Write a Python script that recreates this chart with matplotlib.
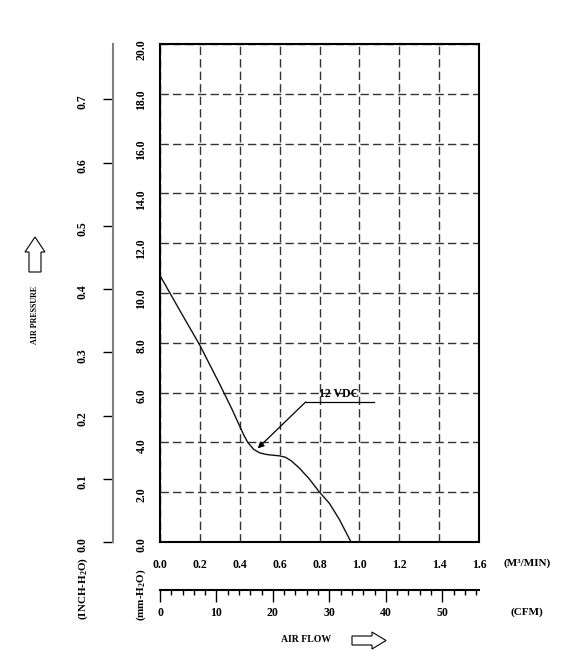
import numpy as np
import matplotlib
matplotlib.use("Agg")
import matplotlib.pyplot as plt
from matplotlib.patches import Polygon

plt.rcParams['font.family'] = ['Liberation Serif', 'DejaVu Serif']
plt.rcParams['font.weight'] = 'bold'
plt.rcParams['mathtext.fontset'] = 'custom'
plt.rcParams['mathtext.rm'] = 'Liberation Serif:bold'
plt.rcParams['mathtext.it'] = 'Liberation Serif:bold'
plt.rcParams['mathtext.bf'] = 'Liberation Serif:bold'

# P-Q curve (flow in M^3/MIN, pressure in mm-H2O)
flow = [0.0, 0.1, 0.2, 0.3, 0.36, 0.4, 0.42, 0.44, 0.47, 0.5, 0.53, 0.56, 0.6,
        0.63, 0.66, 0.7, 0.75, 0.8, 0.85, 0.9, 0.958]
pressure = [10.7, 9.29, 7.9, 6.33, 5.35, 4.65, 4.3, 4.0, 3.72, 3.58, 3.52, 3.49, 3.46,
            3.4, 3.25, 2.96, 2.52, 2.0, 1.55, 0.9, 0.0]

flow_ticks = [0.0, 0.2, 0.4, 0.6, 0.8, 1.0, 1.2, 1.4, 1.6]
mm_ticks = [0.0, 2.0, 4.0, 6.0, 8.0, 10.0, 12.0, 14.0, 16.0, 18.0, 20.0]
inch_ticks = [0.0, 0.1, 0.2, 0.3, 0.4, 0.5, 0.6, 0.7]
cfm_major = [0, 10, 20, 30, 40, 50]
cfm_minor = list(range(0, 57, 2))
curve_label = "12 VDC"

W, H = 576, 654
fig = plt.figure(figsize=(W / 100, H / 100), dpi=100)

def fx(px):
    return px / W

def fy(py):
    return 1 - py / H

L, R, T, B = 160, 479, 44, 542
ax = fig.add_axes([fx(L), fy(B), fx(R - L), (B - T) / H])
ax.set_xlim(0, 1.6)
ax.set_ylim(0, 20)
ax.set_xticks(flow_ticks)
ax.set_xticklabels([f"{v:.1f}" for v in flow_ticks], fontsize=8.5)
ax.set_yticks(mm_ticks)
ax.set_yticklabels([f"{v:.1f}" for v in mm_ticks], fontsize=8.5, rotation=90)
ax.tick_params(axis='x', length=0, pad=12)
ax.tick_params(axis='y', length=0, pad=9)
for s in ax.spines.values():
    s.set_linewidth(1.5)
    s.set_color('black')
ax.grid(True, color='#333333', linewidth=1.0, linestyle=(0, (6, 3)))
ax.set_axisbelow(True)

ax.plot(flow, pressure, color='#111111', linewidth=1.0, zorder=3)

# 12 VDC label
ax.annotate('', xy=(0.49, 3.76), xytext=(0.73, 5.62),
            arrowprops=dict(arrowstyle='-|>', color='black', lw=0.9,
                            mutation_scale=9, shrinkA=0, shrinkB=0))
ax.plot([0.73, 1.075], [5.62, 5.62], color='black', linewidth=0.9)
ax.text(0.9, 5.7, curve_label, fontsize=8.5, ha='center', va='bottom')

# inch-H2O scale
ax_in = fig.add_axes([fx(113), fy(B), 0.001, (B - T) / H])
ax_in.set_ylim(0, 20 / 25.4)
ax_in.set_xticks([])
ax_in.set_yticks(inch_ticks)
ax_in.set_yticklabels([f"{v:.1f}" for v in inch_ticks], fontsize=8.5, rotation=90)
ax_in.tick_params(axis='y', length=7.5, width=1.0, pad=10, direction='out')
for k in ['top', 'right', 'bottom']:
    ax_in.spines[k].set_visible(False)
ax_in.spines['left'].set_color('#808080')
ax_in.spines['left'].set_linewidth(1.5)
ax_in.patch.set_visible(False)

# CFM scale
ax_cfm = fig.add_axes([fx(L), fy(590), fx(R - L), 0.0001])
ax_cfm.set_xlim(0, 1.6 * 35.3147)
ax_cfm.set_yticks([])
ax_cfm.set_xticks(cfm_major)
ax_cfm.set_xticklabels([str(v) for v in cfm_major], fontsize=8.5)
ax_cfm.set_xticks(cfm_minor, minor=True)
ax_cfm.tick_params(axis='x', which='major', length=8.6, width=1.0, pad=4)
ax_cfm.tick_params(axis='x', which='minor', length=3.6, width=1.0)
for k in ['top', 'right', 'left']:
    ax_cfm.spines[k].set_visible(False)
ax_cfm.spines['bottom'].set_linewidth(1.5)
ax_cfm.patch.set_visible(False)

# unit labels
fig.text(fx(527), fy(563), "(M³/MIN)", fontsize=8, ha='center', va='center')
fig.text(fx(527), fy(612), "(CFM)", fontsize=8, ha='center', va='center')
fig.text(fx(83), fy(588), r"(INCH-H$_2$O)", fontsize=8, ha='center', va='center', rotation=90)
fig.text(fx(141), fy(595), r"(mm-H$_2$O)", fontsize=8, ha='center', va='center', rotation=90)
fig.text(fx(306), fy(640), "AIR FLOW", fontsize=7, ha='center', va='center')
fig.text(fx(35), fy(315), "AIR PRESSURE", fontsize=5.8, ha='center', va='center', rotation=90)

# hollow arrows (pixel coords -> inches)
def px_poly(pts):
    return [(x / 100, (H - y) / 100) for x, y in pts]

right_arrow = px_poly([(352, 636), (372, 636), (372, 632), (386, 640.5),
                       (372, 649), (372, 645), (352, 645)])
up_arrow = px_poly([(29, 272), (29, 252), (25, 252), (35, 237),
                    (45, 252), (41, 252), (41, 272)])
for pts in (right_arrow, up_arrow):
    fig.patches.append(Polygon(pts, closed=True, facecolor='white', edgecolor='black',
                               linewidth=0.8, transform=fig.dpi_scale_trans))

fig.savefig("out.png", dpi=100)
